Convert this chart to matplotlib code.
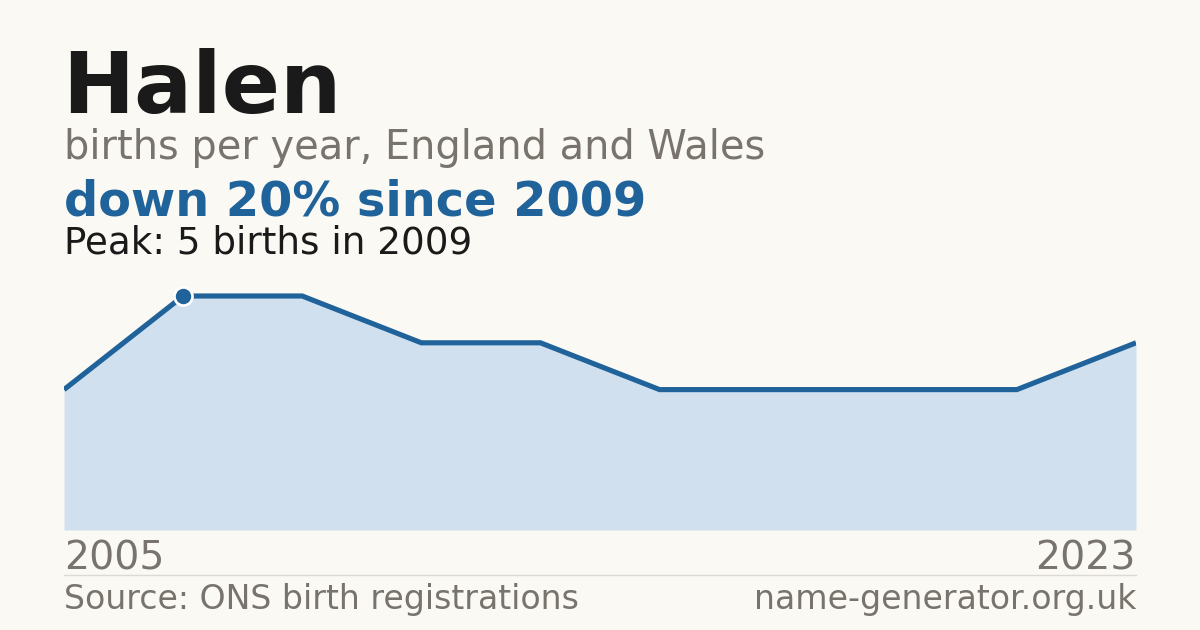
import matplotlib.pyplot as plt
import numpy as np

# data (points are evenly spaced by index)
years = [2005, 2009, 2010, 2012, 2014, 2016, 2018, 2020, 2021, 2023]
births = [3, 5, 5, 4, 4, 3, 3, 3, 3, 4]
name = "Halen"
peak_year = 2009
peak_value = 5

W, H = 1200, 630
bg = "#faf9f4"
blue = "#20629a"
fill = "#d0e0ef"
gray = "#78746d"
dark = "#1a1a1a"

fig = plt.figure(figsize=(W / 100, H / 100), dpi=100, facecolor=bg)

def fx(px):
    return px / W

def fy(py):
    return 1 - py / H

# plot area: x 64..1136, baseline at 530, peak value lands at y=296
top = 270
ax = fig.add_axes([fx(64), fy(530), fx(1136) - fx(64), (530 - top) / H])
ax.set_facecolor("none")
x = np.arange(len(births))
ax.fill_between(x, births, 0, color=fill, lw=0)
ax.plot(x, births, color=blue, lw=3.7, solid_joinstyle="miter",
        solid_capstyle="butt")
pi = years.index(peak_year)
ax.plot(x[pi], births[pi], "o", ms=13, color=blue, mec="white", mew=1.9,
        clip_on=False, zorder=5)
ax.set_xlim(0, len(births) - 1)
ax.set_ylim(0, peak_value * (530 - top) / (530 - 296))
ax.axis("off")

change = round((births[-1] - births[pi]) / births[pi] * 100)

fig.text(fx(62), fy(113), name, fontsize=62, fontweight="bold", color=dark,
         va="baseline")
fig.text(fx(64), fy(159), "births per year, England and Wales", fontsize=28.7,
         color=gray, va="baseline")
fig.text(fx(64), fy(215), f"down {abs(change)}% since {peak_year}",
         fontsize=34.5, fontweight="bold", color=blue, va="baseline")
fig.text(fx(64), fy(253), f"Peak: {peak_value} births in {peak_year}",
         fontsize=26.8, color=dark, va="baseline")

fig.text(fx(64), fy(569), str(years[0]), fontsize=28.4, color=gray,
         va="baseline")
fig.text(fx(1136), fy(569), str(years[-1]), fontsize=28.4, color=gray,
         va="baseline", ha="right")
fig.add_artist(plt.Line2D([fx(64), fx(1136)], [fy(574.5), fy(574.5)],
                          color="#dedad2", lw=1))
fig.text(fx(64), fy(609), "Source: ONS birth registrations", fontsize=23.9,
         color=gray, va="baseline")
fig.text(fx(1136), fy(609), "name-generator.org.uk", fontsize=23.9, color=gray,
         va="baseline", ha="right")

fig.savefig("out.png", dpi=100, facecolor=bg)
